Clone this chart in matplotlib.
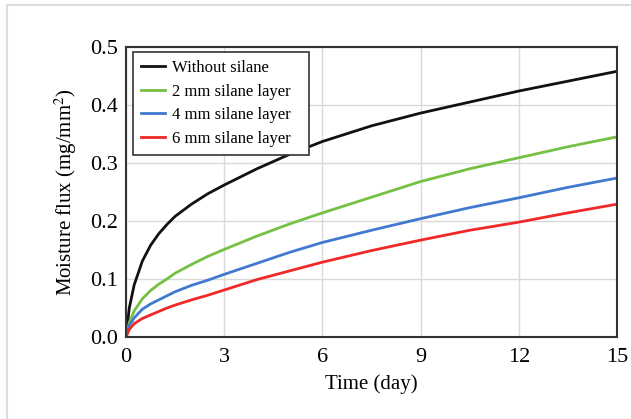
import matplotlib.pyplot as plt
from matplotlib.lines import Line2D

plt.rcParams['font.family'] = ['Liberation Serif', 'DejaVu Serif']
plt.rcParams['mathtext.fontset'] = 'stix'

# time (day)
t = [0, 0.1, 0.25, 0.5, 0.75, 1, 1.25, 1.5, 2, 2.5, 3, 4, 5, 6, 7.5, 9, 10.5, 12, 13.5, 15]

no_silane = [0, 0.05, 0.09, 0.131, 0.158, 0.178, 0.194, 0.208, 0.229, 0.247,
             0.262, 0.29, 0.315, 0.337, 0.364, 0.386, 0.405, 0.424, 0.441, 0.458]
silane_2mm = [0, 0.025, 0.045, 0.066, 0.08, 0.091, 0.1, 0.11, 0.125, 0.139,
              0.151, 0.174, 0.195, 0.214, 0.241, 0.268, 0.29, 0.309, 0.328, 0.345]
silane_4mm = [0, 0.02, 0.033, 0.048, 0.057, 0.064, 0.071, 0.078, 0.089, 0.098,
              0.108, 0.127, 0.146, 0.163, 0.184, 0.204, 0.223, 0.24, 0.258, 0.274]
silane_6mm = [0, 0.013, 0.023, 0.032, 0.038, 0.044, 0.05, 0.055, 0.064, 0.072,
              0.081, 0.099, 0.114, 0.129, 0.149, 0.167, 0.184, 0.198, 0.214, 0.229]

labels = ['Without silane', '2 mm silane layer', '4 mm silane layer', '6 mm silane layer']
colors = ['#111111', '#74c043', '#4279d0', '#f02828']
series = [no_silane, silane_2mm, silane_4mm, silane_6mm]

fig = plt.figure(figsize=(6.31, 4.19), dpi=100)
ax = fig.add_axes([0.1997, 0.1957, 0.7783, 0.6923])

for y, c, lab in zip(series, colors, labels):
    ax.plot(t, y, color=c, lw=2, label=lab, solid_joinstyle='round')

ax.set_xlim(0, 15)
ax.set_ylim(0, 0.5)
ax.set_xticks([0, 3, 6, 9, 12, 15])
ax.set_yticks([0, 0.1, 0.2, 0.3, 0.4, 0.5])
ax.set_yticklabels(['0.0', '0.1', '0.2', '0.3', '0.4', '0.5'])
ax.tick_params(length=0, labelsize=16)
ax.tick_params(axis='y', pad=6)
ax.tick_params(axis='x', pad=8)
ax.grid(True, color='#d9d9d9', lw=1)
ax.set_axisbelow(True)
for s in ax.spines.values():
    s.set_color('#333333')
    s.set_linewidth(1.5)

ax.set_xlabel('Time (day)', fontsize=15, labelpad=5)
ax.set_ylabel('Moisture flux (mg/mm$^2$)', fontsize=15, labelpad=8)

leg = ax.legend(loc='upper left', bbox_to_anchor=(0.01426, 0.5, 0.3585, 0.483),
                mode='expand', borderaxespad=0,
                fontsize=12, fancybox=False, framealpha=1, edgecolor='#333333',
                handlelength=1.4, handletextpad=0.45, labelspacing=0.45,
                borderpad=0.5)
leg.get_frame().set_linewidth(1.2)

# faint frame around the picture
fig.add_artist(Line2D([7 / 631, 1], [1 - 5 / 419, 1 - 5 / 419], color='#dddddd', lw=1.5))
fig.add_artist(Line2D([7 / 631, 7 / 631], [0, 1 - 5 / 419], color='#dddddd', lw=1.5))

fig.savefig('out.png', dpi=100)
